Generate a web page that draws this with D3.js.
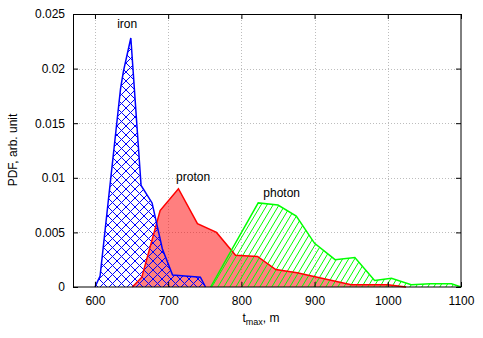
<!DOCTYPE html>
<html>
<head>
<meta charset="utf-8">
<script src="https://cdn.jsdelivr.net/npm/d3@7"></script>
<style>
  body { margin: 0; background: #fff; }
  svg { display: block; font-family: "Liberation Sans", Arial, sans-serif; }
</style>
</head>
<body>
<svg id="chart" width="483" height="338"></svg>
<script>
// t_max values (m) and PDF values, one pair of arrays per primary
var ironX   = [600, 607, 635, 639, 649, 663, 678, 692, 706, 744, 751];
var ironY   = [0, 0.001, 0.0182, 0.0198, 0.0228, 0.0093, 0.0077, 0.0035, 0.0011, 0.0009, 0];

var protonX = [651, 664, 689, 714, 740, 766, 792, 822, 847, 876, 950, 1000, 1025];
var protonY = [0, 0.0009, 0.0070, 0.0090, 0.0058, 0.0050, 0.0029, 0.0028, 0.0016, 0.0013, 0.0002, 0.0002, 0];

var photonX = [758, 823, 850, 875, 900, 928, 955, 982, 1005, 1032, 1058, 1087, 1100];
var photonY = [0, 0.0077, 0.0075, 0.0065, 0.0040, 0.0025, 0.0027, 0.0006, 0.0008, 0.0002, 0.0003, 0.0003, 0];

var xTicks = [600, 700, 800, 900, 1000, 1100];
var yTicks = [0, 0.005, 0.01, 0.015, 0.02, 0.025];

// text labels placed at data coordinates
var labelNames = ["iron", "proton", "photon"];
var labelX     = [644, 734, 855];
var labelY     = [0.0237, 0.0097, 0.0082];

var svg = d3.select("#chart");

var x = d3.scaleLinear().domain([570, 1100]).range([73, 461]);
var y = d3.scaleLinear().domain([0, 0.025]).range([287, 14]);

// patterns
var defs = svg.append("defs");
var cross = defs.append("pattern").attr("id", "cross")
  .attr("patternUnits", "userSpaceOnUse").attr("width", 9).attr("height", 9);
cross.append("path").attr("d", "M-1,-1L10,10M-1,10L10,-1")
  .attr("stroke", "#0000ff").attr("stroke-width", 1).attr("fill", "none");

var hatch = defs.append("pattern").attr("id", "hatch")
  .attr("patternUnits", "userSpaceOnUse").attr("width", 6).attr("height", 10);
hatch.append("path").attr("d", "M-0.6,11L6.6,-1M-6.6,11L0.6,-1M5.4,11L12.6,-1")
  .attr("stroke", "#00ff00").attr("stroke-width", 1).attr("fill", "none");

// grid
var grid = svg.append("g");
grid.selectAll(".gx").data(xTicks.slice(0, -1)).enter().append("line")
  .attr("x1", d => Math.round(x(d)) + 0.5).attr("x2", d => Math.round(x(d)) + 0.5)
  .attr("y1", y(0.025)).attr("y2", y(0))
  .attr("stroke", "#bdbdbd").attr("stroke-dasharray", "1,2");
grid.selectAll(".gy").data(yTicks.slice(1, -1)).enter().append("line")
  .attr("x1", x(570)).attr("x2", x(1100))
  .attr("y1", d => Math.round(y(d)) + 0.5).attr("y2", d => Math.round(y(d)) + 0.5)
  .attr("stroke", "#bdbdbd").attr("stroke-dasharray", "1,2");

function pts(xs, ys) {
  return xs.map(function (v, i) { return [v, ys[i]]; });
}

var area = d3.area().x(d => x(d[0])).y0(y(0)).y1(d => y(d[1]));
var line = d3.line().x(d => x(d[0])).y(d => y(d[1]));

var iron = pts(ironX, ironY), proton = pts(protonX, protonY), photon = pts(photonX, photonY);

// fills
svg.append("path").attr("d", area(proton)).attr("fill", "rgba(255,0,0,0.5)");
svg.append("path").attr("d", area(iron)).attr("fill", "url(#cross)");
svg.append("path").attr("d", area(photon)).attr("fill", "url(#hatch)");

// outlines
svg.append("path").attr("d", line(proton)).attr("fill", "none").attr("stroke", "#ff0000").attr("stroke-width", 1.5);
svg.append("path").attr("d", line(iron)).attr("fill", "none").attr("stroke", "#0000ff").attr("stroke-width", 1.5);
svg.append("path").attr("d", line(photon)).attr("fill", "none").attr("stroke", "#00ff00").attr("stroke-width", 1.5);

// axes
var fmtY = function (d) { return String(+d.toFixed(3)); };

var gx = svg.append("g").attr("transform", "translate(0,287)")
  .call(d3.axisBottom(x).tickValues(xTicks).tickFormat(d3.format("d")).tickSizeInner(-5).tickSizeOuter(0).tickPadding(9));
var gy = svg.append("g").attr("transform", "translate(73,0)")
  .call(d3.axisLeft(y).tickValues(yTicks).tickFormat(fmtY).tickSizeInner(-5).tickSizeOuter(0).tickPadding(8));
var gt = svg.append("g").attr("transform", "translate(0,14)")
  .call(d3.axisTop(x).tickValues(xTicks).tickFormat("").tickSizeInner(-5).tickSizeOuter(0));
var gr = svg.append("g").attr("transform", "translate(461,0)")
  .call(d3.axisRight(y).tickValues(yTicks).tickFormat("").tickSizeInner(-5).tickSizeOuter(0));

[gx, gy, gt, gr].forEach(function (g) {
  g.select(".domain").remove();
  g.selectAll("text").attr("font-size", 12).attr("fill", "#000")
    .attr("font-family", "Liberation Sans, Arial, sans-serif");
  g.selectAll(".tick line").attr("stroke", "#000");
});

// border
svg.append("rect").attr("x", 73.5).attr("y", 14.5).attr("width", 387.5).attr("height", 272.5)
  .attr("fill", "none").attr("stroke", "#000").attr("stroke-width", 1);

// annotations
svg.selectAll(".lbl").data(labelNames).enter().append("text")
  .attr("x", (d, i) => x(labelX[i])).attr("y", (d, i) => y(labelY[i]))
  .attr("text-anchor", "middle").attr("font-size", 12).attr("fill", "#000")
  .text(d => d);

// axis titles
var xt = svg.append("text").attr("x", 261).attr("y", 322).attr("text-anchor", "middle")
  .attr("font-size", 12).attr("fill", "#000");
xt.append("tspan").text("t");
xt.append("tspan").attr("font-size", 9).attr("dy", 3).text("max");
xt.append("tspan").attr("dy", -3).text(", m");

svg.append("text").attr("transform", "translate(17,150) rotate(-90)")
  .attr("text-anchor", "middle").attr("font-size", 12).attr("fill", "#000")
  .text("PDF, arb. unit");
</script>
</body>
</html>
